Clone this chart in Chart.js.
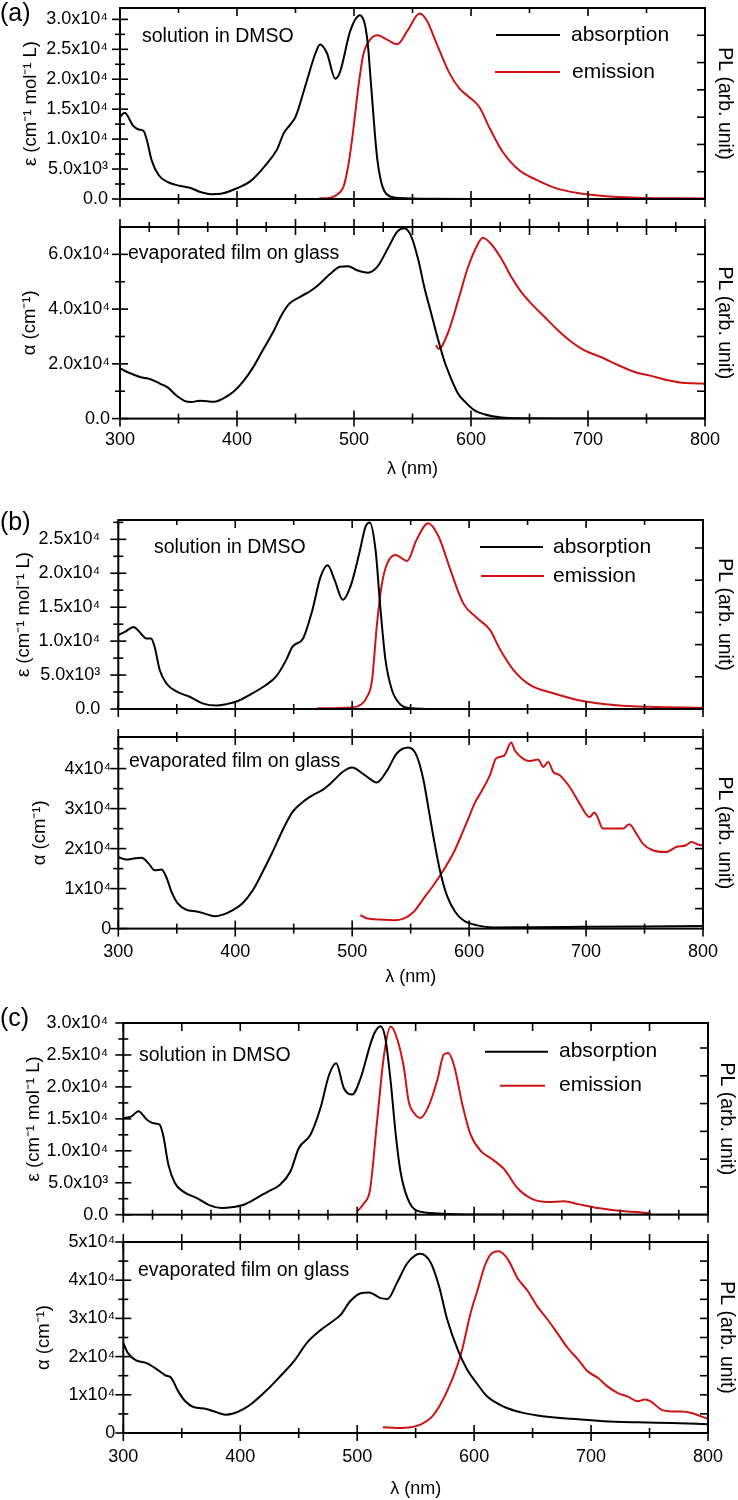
<!DOCTYPE html>
<html>
<head>
<meta charset="utf-8">
<script src="https://cdn.jsdelivr.net/npm/chart.js@4.4.1/dist/chart.umd.min.js"></script>
<style>
  body { margin: 0; background: #fff; }
  #wrap { position: relative; width: 738px; height: 1500px; overflow: hidden; background: #fff; }
  #wrap canvas { position: absolute; left: 0; }
</style>
</head>
<body>
<div id="wrap"></div>
<script>
// ---- data (wavelength in nm) ----
const xTicks = [300, 400, 500, 600, 700, 800];

// (a) solution
const aSolWl  = [300,304,311,316,320,323,327,333,340,351,361,368,378,388,400,411,425,434,440,445,450,459,467,471,477,484,488,497,505,508,510,512,514,516,518,520,523,526,530,540,560,600,700,800];
const aSolAbs = [13700,14400,12300,11600,11400,9800,6500,4000,2900,2200,1800,1200,800,950,1800,2900,5800,8200,11000,12300,13700,19300,24300,25800,24300,20100,21200,28200,30700,30000,28500,25500,20500,15500,10500,6500,3000,1300,500,150,50,0,0,0];
const aSolEmWl = [470,480,485,491,495,499,504,508,514,520,529,537,546,556,562,570,581,590,598,607,616,627,641,656,673,690,713,741,800];
const aSolEm   = [0.02,0.05,0.15,0.45,1.2,2.4,4.2,5.3,5.85,6.0,5.82,5.67,6.19,6.8,6.56,5.76,4.66,4.05,3.75,3.38,2.59,1.73,1.06,0.7,0.39,0.23,0.11,0.05,0.02];
// (a) film
const aFilmWl  = [300,308,317,326,334,341,348,355,361,368,375,381,388,397,405,414,422,431,438,445,454,464,471,480,488,495,502,512,520,529,537,543,549,555,560,566,572,577,583,589,595,603,612,626,640,700,800];
const aFilmAbs = [18300,16700,15200,14400,12800,11300,8500,6500,6100,6500,6300,6200,7300,9800,13400,18900,25000,31700,37800,42100,44500,47000,49400,53000,55500,55700,54300,53300,55500,62200,68300,69500,66500,57900,48200,38400,28700,21300,14600,9100,6100,3000,1500,400,100,50,50];
const aFilmEmWl = [570,572.5,580,589,597.5,606,610,617,626,634.5,643,651.5,663,674.5,686,697,711,726,740,754,768,783,798,800];
const aFilmEm   = [2.68,2.55,3.1,4.32,5.54,6.39,6.61,6.39,5.84,5.17,4.62,4.2,3.71,3.22,2.8,2.49,2.25,1.95,1.7,1.56,1.4,1.3,1.28,1.25];

// (b) solution
const bSolWl  = [300,306,313,318,324,328,331,335.5,341,350,361,372,384,392,401,412,426,435,443.5,449,458,466,473,479,485,492,499,506,511.5,515,520,524,528.5,534,541,550,570,800];
const bSolAbs = [10900,11400,12100,11400,10400,10400,9200,5700,3800,2550,1800,830,500,700,1100,2060,3500,4800,7200,9200,10400,14600,19500,21200,19000,16100,18300,22900,26900,27500,23400,15100,7200,2800,700,100,0,0];
const bSolEmWl = [470,500,508,512,517,521,525.5,530,537,547,555,565,574,584,595,607,618,626,638,652,672,697,726,754,800];
const bSolEm   = [0.02,0.05,0.15,0.33,0.9,2.56,3.9,4.52,4.78,4.6,5.25,5.77,5.35,4.32,3.28,2.82,2.45,1.88,1.21,0.75,0.49,0.25,0.12,0.07,0.04];
// (b) film
const bFilmWl  = [300,307,313,320,326,331,337,341,345.5,351,358,367,374,382,389.5,398,406.5,415,423.5,432,440.5,449,458,466,475,483,492,500,509,514,521,530,538,548,555,561,565.5,569.5,575,581,588,595,607,621,650,700,750,800];
const bFilmAbs = [17900,17250,17500,17700,16250,14600,14750,12900,9200,6250,4750,4300,3750,3100,3500,4600,6400,9600,14200,19200,24600,29200,31700,33300,34750,36700,39200,40250,38750,37700,36500,39600,43750,45250,43300,37100,29600,22900,14600,8300,4200,2100,800,300,350,450,550,650];
const bFilmEmWl = [507,513,524,535,544,552.5,561,569.5,578,587,595,600,605,610,618,623,630,636,639,646,652,659,663.5,667.5,672,677.5,686,694.5,703,707,709,714.5,723,731.5,737,743,748.5,757,768.5,777,785.5,790,798,800];
const bFilmEm   = [0.67,0.5,0.45,0.42,0.5,0.83,1.5,2.17,2.92,3.83,4.9,5.6,6.3,6.8,7.7,8.5,8.65,9.3,8.92,8.5,8.38,8.45,8.08,8.33,7.83,7.67,7.08,6.25,5.58,5.8,5.67,5.0,5.0,5.0,5.22,4.75,4.25,3.92,3.83,4.08,4.17,4.33,4.17,4.2];

// (c) solution
const cSolWl  = [300,307,313,320,326,331,334,338.6,344,351,363,374,384,394,403,414,423,434,443,450,460,468.6,476,482,488.6,495.7,503,511,515,520,524,528.6,533,537,543,551,569,600,800];
const cSolAbs = [15100,15400,16200,14900,14300,14100,12500,7800,5000,3650,2600,1460,1040,1200,1560,2600,3550,4700,6800,10400,12500,16700,21900,23700,19800,18800,21400,26500,28500,29500,27700,20900,12500,6800,2600,630,200,50,0];
const cSolEmWl = [500,506,511,517,523,528.6,534,540,544,548.6,554,561,568.6,574,578,583,590,597,606,614,626,637,649,663,677,689,706,729,740,751];
const cSolEm   = [0.12,0.42,0.9,3.36,5.76,6.77,6.35,5.28,4.08,3.66,3.48,3.9,4.86,5.76,5.82,5.34,3.96,2.88,2.28,2.04,1.62,0.96,0.58,0.46,0.48,0.38,0.24,0.12,0.1,0.04];
// (c) film
const cFilmWl  = [300,304,311,320,329,336,341,347,353,360,371,380,387,394,403,411,423,434,446,457,469,477,486,494,503,510,520,526,534,543,554,563,570,577,586,594,603,611,626,640,654,683,711,740,769,800];
const cFilmAbs = [23600,20900,19000,18300,16600,15100,14400,10900,8300,6800,6300,5400,4800,5100,6300,8000,11300,14800,18800,23600,27000,28800,31000,34500,36600,36800,35300,35100,39300,44500,46900,44500,38400,29700,21800,16600,12700,9600,6800,5400,4600,3700,3100,2800,2600,2300];
const cFilmEmWl = [522,534,546,554,563,571,580,589,597,603,609,614,621,629,637,646,654,663,671,680,689,697,706,714,723,731,740,746,751,760,769,777,786,794,800];
const cFilmEm   = [0.3,0.26,0.3,0.44,0.79,1.48,2.62,4.19,6.28,7.5,8.73,9.34,9.51,9.08,8.12,7.42,6.63,5.93,5.24,4.45,3.84,3.23,2.88,2.44,2.09,1.92,1.66,1.75,1.66,1.22,1.13,1.13,1.05,0.87,0.75];

// left axis ticks and labels
const solTicks5k   = [0,5000,10000,15000,20000,25000,30000];
const solLabels5k  = ['0.0','5.0x10³','1.0x10⁴','1.5x10⁴','2.0x10⁴','2.5x10⁴','3.0x10⁴'];
const solMinor     = [2500,7500,12500,17500,22500,27500];
const aFilmTicks   = [0,20000,40000,60000];
const aFilmLabels  = ['0.0','2.0x10⁴','4.0x10⁴','6.0x10⁴'];
const aFilmMinor   = [10000,30000,50000];
const bcFilmTicks  = [0,10000,20000,30000,40000,50000];
const bcFilmLabels = ['0','1x10⁴','2x10⁴','3x10⁴','4x10⁴','5x10⁴'];
const bcFilmMinor  = [5000,15000,25000,35000,45000];

const BLACK = '#000000';
const RED = '#cc1414';
const FONT = '"Liberation Sans", Arial, Helvetica, sans-serif';
const W = 738;
const PAD_TOP = 20;

Chart.defaults.font.family = FONT;
Chart.defaults.color = '#000';

const range = (a, b, s) => { const r = []; for (let v = a; v <= b + 1e-9; v += s) r.push(v); return r; };

const framePlugin = {
  id: 'frame',
  afterDraw(chart) {
    const p = chart.options.plugins.frame;
    const {ctx, chartArea: a} = chart;
    const sx = chart.scales.x, sy = chart.scales.y, sy2 = chart.scales.y2;
    const off = p.canvasTop;
    ctx.save();
    ctx.strokeStyle = '#000';
    ctx.lineWidth = 2;
    ctx.strokeRect(a.left, a.top, a.right - a.left, a.bottom - a.top);
    ctx.lineWidth = 1.6;
    const line = (x1, y1, x2, y2) => { ctx.beginPath(); ctx.moveTo(x1, y1); ctx.lineTo(x2, y2); ctx.stroke(); };
    // bottom axis: crossing ticks
    p.botMajor.forEach(v => { const px = sx.getPixelForValue(v); line(px, a.bottom - 8, px, a.bottom + 8); });
    p.botMinor.forEach(v => { const px = sx.getPixelForValue(v); line(px, a.bottom - 5, px, a.bottom + 5); });
    // top axis
    const up = p.topCross ? 8 : 0, upm = p.topCross ? 5 : 0;
    p.topMajor.forEach(v => { const px = sx.getPixelForValue(v); line(px, a.top - up, px, a.top + 8); });
    p.topMinor.forEach(v => { const px = sx.getPixelForValue(v); line(px, a.top - upm, px, a.top + 5); });
    // left axis
    p.yMajor.forEach(v => { const py = sy.getPixelForValue(v); line(a.left - 8, py, a.left + 8, py); });
    p.yMinor.forEach(v => { const py = sy.getPixelForValue(v); line(a.left - 5, py, a.left + 5, py); });
    // right axis (inward only)
    p.y2Ticks.forEach(v => { const py = sy2.getPixelForValue(v); line(a.right - 8, py, a.right, py); });

    ctx.fillStyle = '#000';
    ctx.textBaseline = 'middle';
    ctx.textAlign = 'left';
    if (p.panel) {
      ctx.font = '25px ' + FONT;
      ctx.fillText(p.panel.text, p.panel.x, p.panel.y - off);
    }
    ctx.font = '19.5px ' + FONT;
    ctx.fillText(p.note.text, p.note.x, p.note.y - off);
    if (p.legend) {
      ctx.font = '21px ' + FONT;
      p.legend.forEach(l => {
        ctx.strokeStyle = l.color;
        ctx.lineWidth = 2;
        line(l.x1, l.y - off, l.x2, l.y - off);
        ctx.fillText(l.text, l.tx, l.y - off);
      });
    }
    ctx.restore();
  }
};

function makePanel(p) {
  const wrap = document.getElementById('wrap');
  const cv = document.createElement('canvas');
  const top = p.box.top - PAD_TOP;
  const h = Math.round(p.box.bottom + p.xHeight - top);
  cv.width = W; cv.height = h;
  cv.style.top = top + 'px';
  cv.style.width = W + 'px'; cv.style.height = h + 'px';
  wrap.appendChild(cv);
  const xHeight = h - (p.box.bottom - top);

  const mk = (wl, vals, color, axis) => ({
    data: wl.map((x, i) => ({x: x, y: vals[i]})),
    borderColor: color, borderWidth: 2, pointRadius: 0,
    cubicInterpolationMode: 'monotone', yAxisID: axis, fill: false
  });

  return new Chart(cv.getContext('2d'), {
    type: 'line',
    data: { datasets: [mk(p.absWl, p.abs, BLACK, 'y'), mk(p.emWl, p.em, RED, 'y2')] },
    options: {
      responsive: false, animation: false, devicePixelRatio: 1,
      layout: { padding: { top: PAD_TOP, left: 0, right: 0, bottom: 0 } },
      plugins: {
        legend: { display: false }, tooltip: { enabled: false },
        frame: {
          canvasTop: top, botMajor: p.botMajor, botMinor: p.botMinor,
          topMajor: p.topMajor, topMinor: p.topMinor, topCross: p.topCross,
          yMajor: p.yTicks, yMinor: p.yMinor, y2Ticks: p.y2Ticks,
          panel: p.panel, note: p.note, legend: p.legend
        }
      },
      scales: {
        x: {
          type: 'linear', min: 300, max: 800,
          grid: { display: false, drawTicks: false }, border: { display: false },
          afterBuildTicks: s => { s.ticks = xTicks.map(v => ({value: v})); },
          ticks: { display: p.xLabels, padding: p.xPad, font: { size: 18 }, color: '#000', maxRotation: 0, autoSkip: false, callback: v => String(v) },
          title: { display: p.xLabels, text: 'λ (nm)', font: { size: 18 }, color: '#000', padding: { top: 0, bottom: 0 } },
          afterFit: s => { s.height = xHeight; s.paddingLeft = 0; s.paddingRight = 0; }
        },
        y: {
          position: 'left', min: 0, max: p.yMax,
          grid: { display: false, drawTicks: false }, border: { display: false },
          afterBuildTicks: s => { s.ticks = p.yTicks.map(v => ({value: v})); },
          ticks: { padding: p.yPad, font: { size: 18 }, color: '#000', autoSkip: false, callback: (v, i) => p.yLabels[i] },
          title: { display: true, text: p.yTitle, font: { size: 18.5 }, color: '#000', padding: { top: p.yTitlePad, bottom: 0 } },
          afterFit: s => { s.width = p.box.left; s.paddingTop = 0; s.paddingBottom = 0; }
        },
        y2: {
          position: 'right', min: 0, max: p.y2Max,
          grid: { display: false, drawTicks: false }, border: { display: false },
          ticks: { display: false },
          title: { display: true, text: 'PL (arb. unit)', font: { size: 19.5 }, color: '#000', padding: { top: p.y2TitlePad, bottom: 0 } },
          afterFit: s => { s.width = W - p.box.right; s.paddingTop = 0; s.paddingBottom = 0; }
        }
      }
    },
    plugins: [framePlugin]
  });
}

const epsTitle = 'ε (cm⁻¹ mol⁻¹ L)';
const alphaTitle = 'α (cm⁻¹)';
const major100 = range(300, 800, 100), minor50 = range(350, 750, 100);
const major50 = range(300, 800, 50), minor25 = range(325, 775, 50);

// (a)
makePanel({
  box: { left: 120, right: 705, top: 8, bottom: 199 }, xHeight: 12, xLabels: false, xPad: 0,
  absWl: aSolWl, abs: aSolAbs, emWl: aSolEmWl, em: aSolEm,
  yMax: 31900, yTicks: solTicks5k, yLabels: solLabels5k, yMinor: solMinor, yPad: 12, yTitle: epsTitle, yTitlePad: 20,
  y2Max: 7, y2Ticks: [1, 2, 3, 4, 5, 6], y2TitlePad: 1.5,
  botMajor: major100, botMinor: minor50, topMajor: major100, topMinor: minor50, topCross: false,
  panel: { text: '(a)', x: 0, y: 14 },
  note: { text: 'solution in DMSO', x: 142, y: 37 },
  legend: [
    { text: 'absorption', color: BLACK, x1: 496, x2: 560, y: 35, tx: 571 },
    { text: 'emission', color: RED, x1: 495, x2: 560, y: 72, tx: 572 }
  ]
});
makePanel({
  box: { left: 120, right: 705, top: 226.7, bottom: 418.3 }, xHeight: 61, xLabels: true, xPad: 11,
  absWl: aFilmWl, abs: aFilmAbs, emWl: aFilmEmWl, em: aFilmEm,
  yMax: 70000, yTicks: aFilmTicks, yLabels: aFilmLabels, yMinor: aFilmMinor, yPad: 10, yTitle: alphaTitle, yTitlePad: 19,
  y2Max: 7, y2Ticks: [1, 2, 3, 4, 5, 6], y2TitlePad: 1.5,
  botMajor: major100, botMinor: minor50, topMajor: major50, topMinor: minor25, topCross: true,
  note: { text: 'evaporated film on glass', x: 128, y: 253 }
});

// (b)
makePanel({
  box: { left: 118.3, right: 703, top: 520, bottom: 709 }, xHeight: 12, xLabels: false, xPad: 0,
  absWl: bSolWl, abs: bSolAbs, emWl: bSolEmWl, em: bSolEm,
  yMax: 27850, yTicks: solTicks5k.slice(0, 6), yLabels: solLabels5k.slice(0, 6), yMinor: solMinor, yPad: 18, yTitle: epsTitle, yTitlePad: 13,
  y2Max: 5.87, y2Ticks: [1, 2, 3, 4, 5], y2TitlePad: 1.5,
  botMajor: major100, botMinor: minor50, topMajor: major100, topMinor: minor50, topCross: false,
  panel: { text: '(b)', x: 0, y: 523 },
  note: { text: 'solution in DMSO', x: 154, y: 548 },
  legend: [
    { text: 'absorption', color: BLACK, x1: 480, x2: 543, y: 547, tx: 553 },
    { text: 'emission', color: RED, x1: 481, x2: 544, y: 576, tx: 553 }
  ]
});
makePanel({
  box: { left: 118.3, right: 703, top: 736.7, bottom: 928.3 }, xHeight: 59.5, xLabels: true, xPad: 12.4,
  absWl: bFilmWl, abs: bFilmAbs, emWl: bFilmEmWl, em: bFilmEm,
  yMax: 47900, yTicks: bcFilmTicks.slice(0, 5), yLabels: bcFilmLabels.slice(0, 5), yMinor: bcFilmMinor, yPad: 7, yTitle: alphaTitle, yTitlePad: 29,
  y2Max: 9.58, y2Ticks: [1, 2, 3, 4, 5, 6, 7, 8, 9], y2TitlePad: 1.5,
  botMajor: major100, botMinor: minor50, topMajor: major100, topMinor: minor50, topCross: true,
  note: { text: 'evaporated film on glass', x: 129, y: 761 }
});

// (c)
makePanel({
  box: { left: 123.3, right: 708, top: 1023.3, bottom: 1215 }, xHeight: 12, xLabels: false, xPad: 0,
  absWl: cSolWl, abs: cSolAbs, emWl: cSolEmWl, em: cSolEm,
  yMax: 30000, yTicks: solTicks5k, yLabels: solLabels5k, yMinor: solMinor, yPad: 15, yTitle: epsTitle, yTitlePad: 23,
  y2Max: 6.9, y2Ticks: [1, 2, 3, 4, 5, 6], y2TitlePad: 0,
  botMajor: major100, botMinor: range(325, 775, 25).filter(v => v % 100 !== 0), topMajor: major50, topMinor: [], topCross: false,
  panel: { text: '(c)', x: 0, y: 1019 },
  note: { text: 'solution in DMSO', x: 139, y: 1056 },
  legend: [
    { text: 'absorption', color: BLACK, x1: 485, x2: 548, y: 1052, tx: 559 },
    { text: 'emission', color: RED, x1: 500, x2: 545, y: 1086, tx: 559 }
  ]
});
makePanel({
  box: { left: 123.3, right: 708, top: 1242.3, bottom: 1433.3 }, xHeight: 66.5, xLabels: true, xPad: 13.4,
  absWl: cFilmWl, abs: cFilmAbs, emWl: cFilmEmWl, em: cFilmEm,
  yMax: 50000, yTicks: bcFilmTicks, yLabels: bcFilmLabels, yMinor: bcFilmMinor, yPad: 8, yTitle: alphaTitle, yTitlePad: 33,
  y2Max: 10, y2Ticks: [1, 2, 3, 4, 5, 6, 7, 8, 9], y2TitlePad: 0,
  botMajor: major100, botMinor: minor50, topMajor: major50, topMinor: [], topCross: true,
  note: { text: 'evaporated film on glass', x: 138, y: 1271 }
});
</script>
</body>
</html>
